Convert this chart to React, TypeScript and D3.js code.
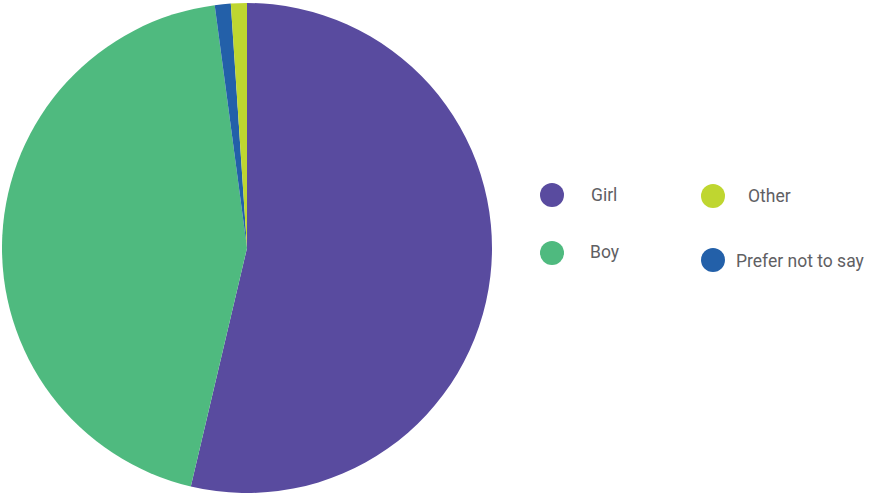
import { arc, pie, PieArcDatum } from "d3";

// pie order is clockwise from 12 o'clock
const labels = ["Girl", "Boy", "Prefer not to say", "Other"];
const counts = [51, 42, 1, 1];
const colors = ["#594b9f", "#4fba7f", "#2360a9", "#bfd630"];

// legend reads column-wise: Girl, Boy | Other, Prefer not to say
const legendOrder = ["Girl", "Boy", "Other", "Prefer not to say"];

type Slice = { label: string; value: number; color: string };

const slices: Slice[] = labels.map((label, i) => ({
  label,
  value: counts[i],
  color: colors[i],
}));

const width = 870;
const height = 496;
const cx = 247;
const cy = 248;
const radius = 245;

// legend positions (the original legend is a bit uneven)
const legendPos: Record<string, { x: number; y: number; tx: number; ty: number }> = {
  Girl: { x: 552, y: 195, tx: 591, ty: 201 },
  Boy: { x: 552, y: 253, tx: 590, ty: 258 },
  Other: { x: 713, y: 196, tx: 748, ty: 202 },
  "Prefer not to say": { x: 713, y: 260, tx: 736, ty: 267 },
};

export default function App() {
  const layout = pie<Slice>()
    .value((d) => d.value)
    .sort(null);
  const arcs = layout(slices);
  const path = arc<PieArcDatum<Slice>>().innerRadius(0).outerRadius(radius);

  return (
    <svg
      width={width}
      height={height}
      style={{ position: "absolute", left: 0, top: 0, background: "#fff" }}
    >
      <g transform={`translate(${cx},${cy})`}>
        {arcs.map((a) => (
          <path key={a.data.label} d={path(a) ?? ""} fill={a.data.color} />
        ))}
      </g>
      {legendOrder.map((name) => {
        const s = slices.find((d) => d.label === name)!;
        const p = legendPos[name];
        return (
          <g key={name}>
            <circle cx={p.x} cy={p.y} r={12} fill={s.color} />
            <text
              x={p.tx}
              y={p.ty}
              fill="#5f6063"
              fontFamily="Roboto, 'DejaVu Sans', sans-serif"
              fontSize={17.5}
            >
              {name}
            </text>
          </g>
        );
      })}
    </svg>
  );
}
